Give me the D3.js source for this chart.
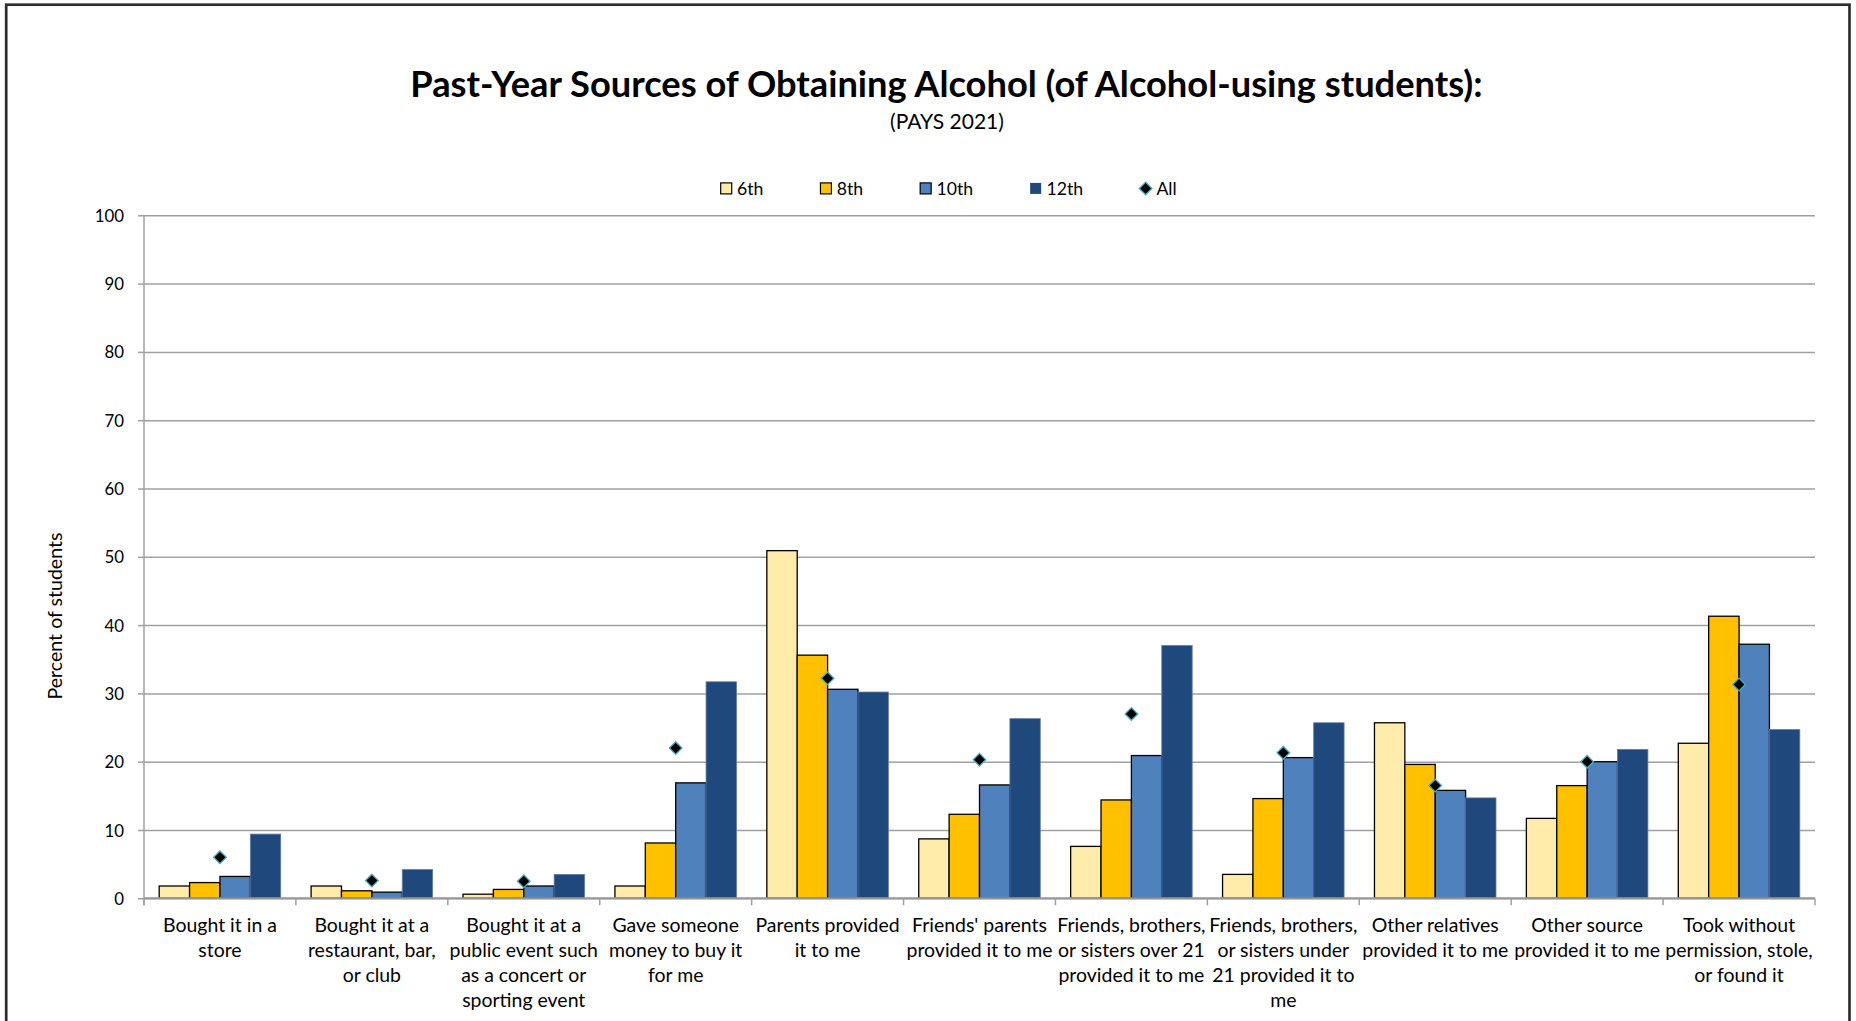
<!DOCTYPE html>
<html>
<head>
<meta charset="utf-8">
<script src="https://cdn.jsdelivr.net/npm/d3@7"></script>
<style>
  html, body { margin: 0; padding: 0; background: #ffffff; }
  svg { display: block; }
  text { font-family: Lato, "Open Sans", sans-serif; fill: #000; }
</style>
</head>
<body>
<svg id="chart" width="1856" height="1021"></svg>
<script>
// ---------------- DATA ----------------
const titleText = "Past-Year Sources of Obtaining Alcohol (of Alcohol-using students):";
const subtitleText = "(PAYS 2021)";
const yAxisTitle = "Percent of students";

const categoryLines = [
  ["Bought it in a", "store"],
  ["Bought it at a", "restaurant, bar,", "or club"],
  ["Bought it at a", "public event such", "as a concert or", "sporting event"],
  ["Gave someone", "money to buy it", "for me"],
  ["Parents provided", "it to me"],
  ["Friends' parents", "provided it to me"],
  ["Friends, brothers,", "or sisters over 21", "provided it to me"],
  ["Friends, brothers,", "or sisters under", "21 provided it to", "me"],
  ["Other relatives", "provided it to me"],
  ["Other source", "provided it to me"],
  ["Took without", "permission, stole,", "or found it"]
];
const categories = categoryLines.map(l => l.join(" "));

const seriesNames = ["6th", "8th", "10th", "12th"];
const values6th  = [1.8, 1.8, 0.6, 1.8, 50.9, 8.7, 7.6, 3.5, 25.7, 11.7, 22.7];
const values8th  = [2.3, 1.1, 1.3, 8.1, 35.6, 12.3, 14.4, 14.6, 19.6, 16.5, 41.3];
const values10th = [3.2, 0.9, 1.8, 16.9, 30.6, 16.6, 20.9, 20.6, 15.8, 20.0, 37.2];
const values12th = [9.4, 4.2, 3.5, 31.7, 30.2, 26.3, 37.0, 25.7, 14.7, 21.8, 24.7];
const valuesAll  = [6.0, 2.6, 2.5, 22.0, 32.2, 20.3, 27.0, 21.3, 16.5, 20.0, 31.3];
const allName = "All";
const yTicks = [0, 10, 20, 30, 40, 50, 60, 70, 80, 90, 100];

// ---------------- STYLE ----------------
const seriesValues = [values6th, values8th, values10th, values12th];
const fills   = ["#FFEBAA", "#FFC000", "#4F81BD", "#1F497D"];
const strokes = ["#000000", "#000000", "#000000", "#5f7ba3"];
const strokeW = [1.3, 1.3, 1.3, 0.8];

function fitWidth(sel, target) {
  const w = sel.node().getComputedTextLength();
  const fs = parseFloat(sel.attr("font-size"));
  sel.attr("font-size", fs * target / w);
  return fs * target / w;
}

function draw() {
  const svg = d3.select("#chart");
  const left = 144, right = 1815, top = 215.3, bottom = 898.3;

  // frame
  svg.append("rect")
    .attr("x", 6.2).attr("y", 4.7)
    .attr("width", 1843.3).attr("height", 1100)
    .attr("fill", "none").attr("stroke", "#2e2e2e").attr("stroke-width", 2.7);

  const x = d3.scaleBand().domain(categories).range([left, right]).paddingInner(0).paddingOuter(0);
  const xs = d3.scaleBand().domain(seriesNames)
    .range([x.bandwidth() * 0.1, x.bandwidth() * 0.9]).padding(0);
  const y = d3.scaleLinear().domain([0, 100]).range([bottom, top]);

  // gridlines
  const gridG = svg.append("g").attr("transform", `translate(${left},0)`)
    .call(d3.axisLeft(y).tickValues(yTicks).tickSize(-(right - left)).tickFormat(""));
  gridG.select(".domain").remove();
  gridG.selectAll(".tick line").attr("stroke", "#a0a0a0").attr("stroke-width", 1.5);

  // y axis (ticks + labels)
  const yAxisG = svg.append("g").attr("transform", `translate(${left},0)`)
    .call(d3.axisLeft(y).tickValues(yTicks).tickSize(6).tickPadding(14).tickSizeOuter(0));
  yAxisG.select(".domain").remove();
  yAxisG.selectAll(".tick line").attr("stroke", "#a0a0a0").attr("stroke-width", 1.5);
  yAxisG.selectAll(".tick text")
    .attr("font-family", "Lato, sans-serif").attr("font-size", 18).attr("fill", "#000");
  svg.append("line").attr("x1", left).attr("x2", left).attr("y1", top).attr("y2", bottom + 7)
    .attr("stroke", "#a0a0a0").attr("stroke-width", 1.5);

  // bars
  const barG = svg.append("g");
  seriesNames.forEach((s, si) => {
    barG.selectAll(null).data(categories).enter().append("rect")
      .attr("x", c => x(c) + xs(s))
      .attr("y", (c, i) => y(seriesValues[si][i]))
      .attr("width", xs.bandwidth())
      .attr("height", (c, i) => y(0) - y(seriesValues[si][i]))
      .attr("fill", fills[si])
      .attr("stroke", strokes[si])
      .attr("stroke-width", strokeW[si]);
  });

  // x axis baseline + ticks
  svg.append("line").attr("x1", left).attr("x2", right).attr("y1", bottom).attr("y2", bottom)
    .attr("stroke", "#969696").attr("stroke-width", 2);
  const bounds = categories.map(c => x(c)).concat([right]);
  svg.selectAll(null).data(bounds).enter().append("line")
    .attr("x1", d => d).attr("x2", d => d).attr("y1", bottom).attr("y2", bottom + 7)
    .attr("stroke", "#a0a0a0").attr("stroke-width", 1.5);

  // All diamonds
  const diamond = d3.symbol().type(d3.symbolSquare).size(80);
  svg.append("g").selectAll("path").data(categories).enter().append("path")
    .attr("d", diamond)
    .attr("transform", (c, i) => `translate(${x(c) + x.bandwidth() / 2},${y(valuesAll[i])}) rotate(45)`)
    .attr("fill", "#000").attr("stroke", "#4BACC6").attr("stroke-width", 1.3);

  // category labels
  const probe = svg.append("text").attr("font-size", 20).text("provided it to me");
  const catFs = fitWidth(probe, 146);
  probe.remove();
  const labG = svg.append("g");
  categories.forEach((c, i) => {
    const t = labG.append("text")
      .attr("x", x(c) + x.bandwidth() / 2)
      .attr("y", 931.7)
      .attr("text-anchor", "middle")
      .attr("font-size", catFs);
    categoryLines[i].forEach((ln, li) => {
      t.append("tspan").attr("x", x(c) + x.bandwidth() / 2).attr("y", 931.7 + li * 25).text(ln);
    });
  });

  // y tick label size calibration: "100" ~ 29px
  const t100 = yAxisG.selectAll(".tick text").filter(d => d === 100);
  const tickFs = fitWidth(t100, 29.3);
  yAxisG.selectAll(".tick text").attr("font-size", tickFs).attr("dy", "0.36em");

  // y axis title
  const yt = svg.append("text")
    .attr("transform", "translate(62,616) rotate(-90)")
    .attr("text-anchor", "middle").attr("font-size", 18).text(yAxisTitle);
  fitWidth(yt, 167);

  // title
  const tt = svg.append("text").attr("x", 946.5).attr("y", 96.5)
    .attr("text-anchor", "middle").attr("font-weight", 700).attr("font-size", 34).text(titleText);
  fitWidth(tt, 1073);
  const st = svg.append("text").attr("x", 947).attr("y", 129.3)
    .attr("text-anchor", "middle").attr("font-size", 18).text(subtitleText);
  fitWidth(st, 114);

  // legend
  const legendItems = seriesNames.concat([allName]);
  const probe2 = svg.append("text").attr("font-size", 18).text("10th");
  const legFs = fitWidth(probe2, 36.7);
  probe2.remove();
  const legG = svg.append("g");
  let lx = 720.7;
  const ly = 188.4;
  legendItems.forEach((name, i) => {
    if (i < seriesNames.length) {
      legG.append("rect").attr("x", lx).attr("y", ly - 5.5).attr("width", 11).attr("height", 11)
        .attr("fill", fills[i]).attr("stroke", i === 3 ? "none" : "#000").attr("stroke-width", 1.2);
    } else {
      legG.append("path").attr("d", diamond)
        .attr("transform", `translate(${lx + 5.5},${ly}) rotate(45)`)
        .attr("fill", "#000").attr("stroke", "#4BACC6").attr("stroke-width", 1.3);
    }
    const tx = legG.append("text").attr("x", lx + 16.3).attr("y", ly).attr("dy", "0.36em")
      .attr("font-size", legFs).text(name);
    lx = lx + 16.3 + tx.node().getComputedTextLength() + 57;
  });
}

if (document.fonts && document.fonts.ready) {
  document.fonts.ready.then(draw);
} else {
  draw();
}
</script>
</body>
</html>
